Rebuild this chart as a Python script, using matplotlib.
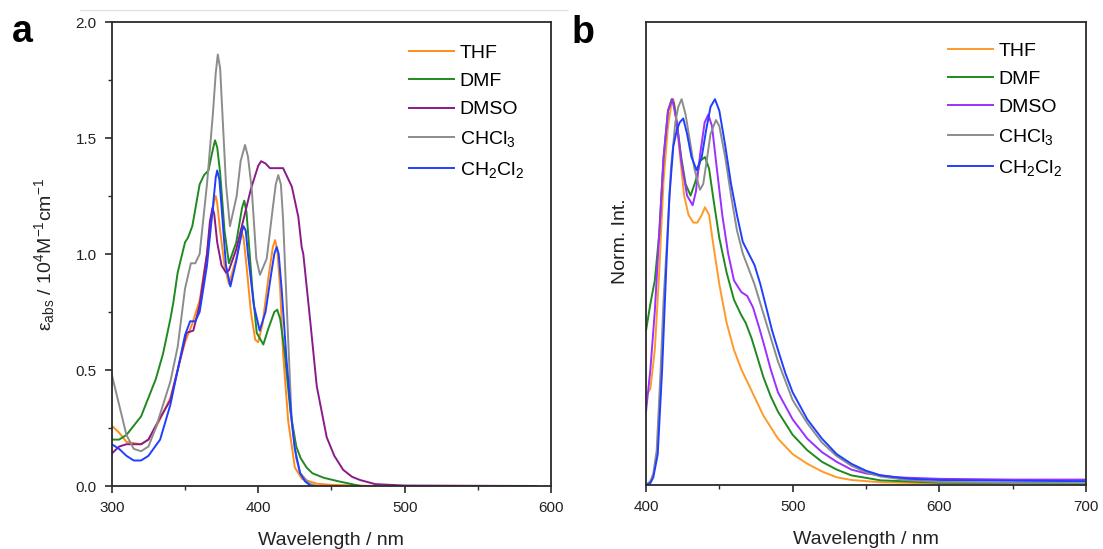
import matplotlib
matplotlib.use("Agg")
import matplotlib.pyplot as plt
from matplotlib.lines import Line2D
from matplotlib.ticker import MultipleLocator, NullLocator, FormatStrFormatter

plt.rcParams['font.family'] = ['Liberation Sans', 'DejaVu Sans']
plt.rcParams['mathtext.fontset'] = 'custom'
plt.rcParams['mathtext.rm'] = 'Liberation Sans'
plt.rcParams['mathtext.it'] = 'Liberation Sans:italic'

# ---------------- Panel a: absorption ----------------
labels = ['THF', 'DMF', 'DMSO', r'CHCl$_3$', r'CH$_2$Cl$_2$']

wl_thf_a = [300, 305, 310, 320, 325, 330, 340, 345, 350, 355, 360, 365, 368, 370, 371, 372, 374, 377, 380,
            385, 388, 389, 390, 392, 395, 398, 400, 403, 407, 410, 411.5, 413, 415, 417, 420.5, 425, 430, 440, 450, 480]
eps_thf = [0.26, 0.23, 0.19, 0.18, 0.20, 0.25, 0.38, 0.50, 0.62, 0.70, 0.80, 1.00, 1.15, 1.23, 1.25, 1.22, 1.10, 0.95, 0.87,
           0.98, 1.07, 1.09, 1.07, 0.95, 0.75, 0.63, 0.62, 0.70, 0.90, 1.03, 1.06, 1.02, 0.85, 0.57, 0.28, 0.08, 0.03, 0.01, 0.005, 0.0]

wl_dmf_a = [300, 305, 310, 320, 325, 330, 335, 340, 342, 345, 350, 352, 355, 360, 363, 366, 369, 370.5, 372, 374, 377, 380, 385,
            389, 390.5, 392, 396, 399, 403.5, 407, 411, 413, 415, 418, 422, 426, 429, 433, 437, 445, 455, 470]
eps_dmf = [0.20, 0.20, 0.22, 0.30, 0.38, 0.46, 0.57, 0.72, 0.79, 0.92, 1.05, 1.07, 1.12, 1.30, 1.34, 1.36, 1.45, 1.49, 1.46, 1.35, 1.10, 0.96, 1.05,
           1.20, 1.23, 1.18, 0.85, 0.66, 0.61, 0.68, 0.75, 0.76, 0.72, 0.58, 0.32, 0.17, 0.12, 0.08, 0.055, 0.035, 0.02, 0.0]

wl_dmso_a = [300, 305, 310, 320, 325, 330, 340, 345, 351, 355.7, 360, 365, 367, 368.8, 370, 372, 375, 378, 380,
             385, 390, 395, 400, 402, 405, 408, 415, 417, 423, 427.4, 429.7, 430.8, 435.4, 440, 446.8, 452, 458,
             464, 469.5, 480, 500, 590]
eps_dmso = [0.14, 0.17, 0.18, 0.18, 0.20, 0.26, 0.37, 0.50, 0.66, 0.67, 0.78, 1.00, 1.14, 1.20, 1.17, 1.05, 0.95, 0.92, 0.93,
            1.02, 1.15, 1.28, 1.38, 1.40, 1.39, 1.37, 1.37, 1.37, 1.29, 1.16, 1.03, 1.00, 0.72, 0.43, 0.21, 0.13, 0.07,
            0.04, 0.026, 0.008, 0.002, 0.0]

wl_chcl3_a = [300, 305, 310, 315, 320, 325, 330, 340, 345, 350, 354, 357, 360, 365, 369, 371, 372.4, 374, 376, 378,
              380.7, 385.3, 388, 391, 393, 395.6, 398.7, 401.2, 405.8, 410, 412, 413.7, 415.5, 417, 420, 422.9, 426,
              428.6, 435, 440, 450]
eps_chcl3 = [0.48, 0.35, 0.22, 0.16, 0.15, 0.17, 0.25, 0.45, 0.60, 0.85, 0.96, 0.96, 1.00, 1.30, 1.60, 1.78, 1.86, 1.80, 1.55, 1.30,
             1.12, 1.25, 1.40, 1.47, 1.42, 1.28, 0.98, 0.91, 0.98, 1.20, 1.30, 1.34, 1.30, 1.15, 0.70, 0.28, 0.12,
             0.056, 0.01, 0.0, 0.0]

wl_ch2cl2_a = [300, 305, 310, 315, 320, 325, 333, 340, 345, 350, 353.5, 357, 360, 365, 369, 371, 372, 373.5, 375, 378,
               381, 385, 389, 390, 391.5, 393, 397, 401, 405, 409, 411, 412.6, 414, 416, 419.4, 422.9, 425, 428.6, 432, 436, 440]
eps_ch2cl2 = [0.18, 0.16, 0.13, 0.11, 0.11, 0.13, 0.20, 0.35, 0.50, 0.65, 0.71, 0.71, 0.75, 0.95, 1.20, 1.33, 1.36, 1.32, 1.20, 0.95,
              0.86, 0.97, 1.10, 1.12, 1.10, 1.00, 0.78, 0.67, 0.75, 0.92, 1.00, 1.03, 1.00, 0.85, 0.54, 0.28, 0.16, 0.056, 0.02, 0.0, 0.0]

# ---------------- Panel b: emission ----------------
wl_thf_b = [400, 403, 406, 409, 412, 415, 417, 418.6, 420, 423, 426, 429, 432.3, 435, 438, 440.2, 443, 446, 450, 455, 460,
            465, 470, 475, 480, 490, 500, 510, 520, 530, 540, 560, 600, 650]
int_thf = [0.23, 0.25, 0.35, 0.55, 0.79, 0.93, 0.98, 1.00, 0.97, 0.86, 0.75, 0.70, 0.68, 0.68, 0.70, 0.72, 0.70, 0.62, 0.52, 0.42, 0.35,
           0.30, 0.26, 0.22, 0.18, 0.12, 0.08, 0.055, 0.035, 0.02, 0.013, 0.007, 0.004, 0.003]

wl_dmf_b = [400, 403, 406, 409, 412, 415, 417.5, 419, 421, 424, 427, 430.4, 434, 437, 440.2, 443, 446, 450, 455, 460,
            465, 468, 472, 476, 480, 485, 490, 500, 510, 520, 530, 540, 560, 600, 700]
int_dmf = [0.40, 0.47, 0.53, 0.65, 0.85, 0.97, 1.00, 0.99, 0.94, 0.85, 0.78, 0.75, 0.79, 0.84, 0.85, 0.82, 0.74, 0.64, 0.55, 0.48,
           0.44, 0.42, 0.38, 0.33, 0.28, 0.23, 0.19, 0.13, 0.09, 0.06, 0.04, 0.025, 0.012, 0.006, 0.004]

wl_dmso_b = [400, 403, 406, 409, 412, 415, 418, 421, 424, 428, 431.8, 434, 437, 440, 442.5, 445, 448, 452, 456,
             460, 465, 469, 473, 477, 480, 485, 490, 500, 510, 520, 530, 540, 550, 570, 600, 650, 700]
int_dmso = [0.19, 0.30, 0.45, 0.65, 0.85, 0.97, 1.00, 0.94, 0.84, 0.75, 0.725, 0.76, 0.86, 0.94, 0.96, 0.93, 0.83, 0.70, 0.60,
            0.53, 0.50, 0.49, 0.46, 0.41, 0.37, 0.30, 0.24, 0.17, 0.12, 0.085, 0.06, 0.04, 0.03, 0.02, 0.016, 0.014, 0.014]

wl_chcl3_b = [400, 403, 405, 407.3, 410, 412, 414, 417, 420, 422, 424.3, 427, 430, 433, 436.8, 439, 441, 444, 447.7, 450, 454,
              458, 462, 466, 470, 474, 478, 482, 486, 490, 495, 500, 510, 520, 530, 540, 550, 560, 580, 600, 650, 700]
int_chcl3 = [0.0, 0.01, 0.03, 0.09, 0.30, 0.48, 0.61, 0.82, 0.94, 0.98, 1.00, 0.96, 0.89, 0.82, 0.765, 0.78, 0.83, 0.91, 0.946, 0.93, 0.85,
             0.75, 0.66, 0.60, 0.56, 0.52, 0.47, 0.42, 0.37, 0.32, 0.27, 0.22, 0.16, 0.11, 0.075, 0.05, 0.033, 0.022, 0.012, 0.008, 0.005, 0.003]

wl_ch2cl2_b = [400, 403, 405, 408, 411, 414, 416, 418.6, 421, 423, 425.4, 428, 431, 434.5, 438, 441, 444, 447, 450, 454,
               458, 462, 466, 470, 474, 478, 482, 486, 490, 495, 500, 510, 520, 530, 540, 550, 560, 580, 600, 650, 700]
int_ch2cl2 = [0.0, 0.005, 0.02, 0.08, 0.30, 0.58, 0.75, 0.877, 0.92, 0.94, 0.95, 0.91, 0.85, 0.816, 0.85, 0.92, 0.98, 1.00, 0.97, 0.88,
              0.78, 0.70, 0.63, 0.60, 0.57, 0.52, 0.46, 0.40, 0.35, 0.29, 0.24, 0.17, 0.12, 0.08, 0.055, 0.037, 0.025, 0.016, 0.013, 0.011, 0.01]

colors_a = ['#ff8c1a', '#1f8a1f', '#8b1a8b', '#8c8c8c', '#1f3fff']
colors_b = ['#ff9a2a', '#1f8a1f', '#9b30ff', '#8c8c8c', '#1f3fff']

series_a = [(wl_thf_a, eps_thf), (wl_dmf_a, eps_dmf), (wl_dmso_a, eps_dmso),
            (wl_chcl3_a, eps_chcl3), (wl_ch2cl2_a, eps_ch2cl2)]
series_b = [(wl_thf_b, int_thf), (wl_dmf_b, int_dmf), (wl_dmso_b, int_dmso),
            (wl_chcl3_b, int_chcl3), (wl_ch2cl2_b, int_ch2cl2)]

W, H = 1103, 549
fig = plt.figure(figsize=(W / 100, H / 100), dpi=100)

spine_c = '#2a2a2a'
tick_fs = 11
lab_fs = 14


def style(ax):
    for s in ax.spines.values():
        s.set_color(spine_c)
        s.set_linewidth(1.3)
    ax.tick_params(which='both', direction='out', colors=spine_c, labelcolor='#222222',
                   top=False, right=False, labelsize=tick_fs, pad=6)
    ax.tick_params(which='major', length=5, width=1.2)
    ax.tick_params(which='minor', length=3, width=1.0)


axa = fig.add_axes([111.8 / W, (H - 486) / H, 439.2 / W, 464 / H])
for (x, y), c, lab in zip(series_a, colors_a, labels):
    axa.plot(x, y, color=c, lw=1.4, label=lab)
axa.set_xlim(300, 600)
axa.set_ylim(0, 2.0)
axa.xaxis.set_major_locator(MultipleLocator(100))
axa.xaxis.set_minor_locator(MultipleLocator(50))
axa.yaxis.set_major_locator(MultipleLocator(0.5))
axa.yaxis.set_minor_locator(MultipleLocator(0.25))
axa.yaxis.set_major_formatter(FormatStrFormatter('%.1f'))
style(axa)
axa.set_xlabel('Wavelength / nm', fontsize=lab_fs, color='#222222', labelpad=12)
axa.set_ylabel(r'$\mathregular{\varepsilon_{abs}}$ / 10$^4$M$^{-1}$cm$^{-1}$', fontsize=lab_fs, color='#222222')
axa.yaxis.set_label_coords(-0.125, 0.5)
axa.legend(loc='upper left', bbox_to_anchor=(0.677, 0.952), frameon=False, fontsize=lab_fs,
           handlelength=2.3, handletextpad=0.3, labelspacing=0.55, borderpad=0, borderaxespad=0)

axb = fig.add_axes([646 / W, (H - 485) / H, 440 / W, 463 / H])
for (x, y), c, lab in zip(series_b, colors_b, labels):
    axb.plot(x, y, color=c, lw=1.4, label=lab)
axb.set_xlim(400, 700)
axb.set_ylim(0, 1.2)
axb.xaxis.set_major_locator(MultipleLocator(100))
axb.xaxis.set_minor_locator(MultipleLocator(50))
axb.yaxis.set_major_locator(NullLocator())
axb.yaxis.set_minor_locator(NullLocator())
style(axb)
axb.set_xlabel('Wavelength / nm', fontsize=lab_fs, color='#222222', labelpad=12)
axb.set_ylabel('Norm. Int.', fontsize=lab_fs, color='#222222')
axb.yaxis.set_label_coords(-0.039, 0.527)
axb.legend(loc='upper left', bbox_to_anchor=(0.686, 0.957), frameon=False, fontsize=lab_fs,
           handlelength=2.3, handletextpad=0.3, labelspacing=0.55, borderpad=0, borderaxespad=0)

fig.text(12 / W, 1 - 42 / H, 'a', fontsize=27, fontweight='bold', ha='left', va='baseline')
fig.text(572 / W, 1 - 43 / H, 'b', fontsize=27, fontweight='bold', ha='left', va='baseline')

fig.add_artist(Line2D([80 / W, 567 / W], [1 - 10 / H, 1 - 10 / H], color='#e2e2e2', lw=1.0))

fig.savefig('out.png', dpi=100)
